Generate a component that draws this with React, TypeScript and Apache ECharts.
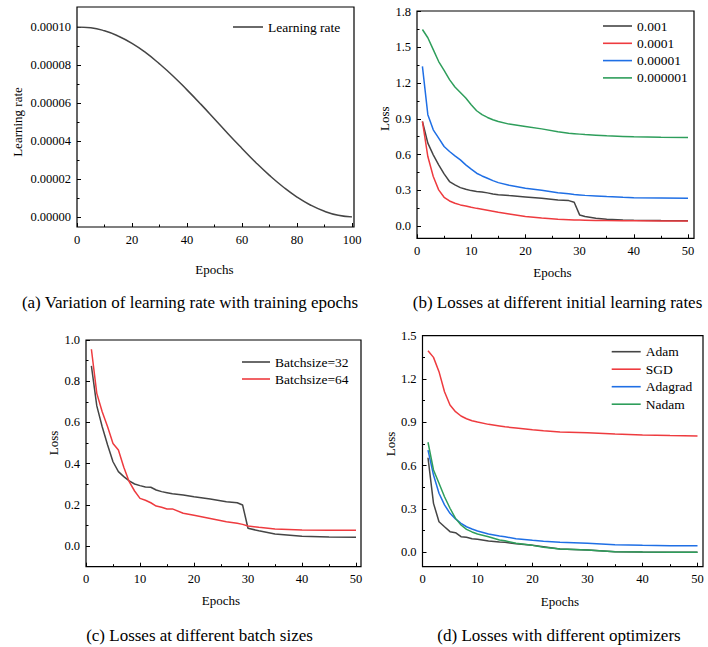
import React, { useEffect, useRef } from 'react';
import * as echarts from 'echarts';

const FONT = "'Liberation Serif', 'Times New Roman', serif";

// ---------- Data ----------
// (a) learning rate vs epochs
const EPOCHS_A = [0, 5, 10, 15, 20, 25, 30, 35, 40, 45, 50, 55, 60, 65, 70, 75, 80, 85, 90, 95, 100];
const LEARNING_RATE = [1.0e-4, 9.96e-5, 9.8e-5, 9.52e-5, 9.14e-5, 8.65e-5, 8.06e-5, 7.41e-5, 6.69e-5, 5.94e-5, 5.16e-5, 4.37e-5, 3.61e-5, 2.87e-5, 2.19e-5, 1.58e-5, 1.05e-5, 6.2e-6, 3.0e-6, 9e-7, 0];

// (b) losses at different initial learning rates
const EPOCHS_B = [1, 2, 3, 4, 5, 6, 7, 8, 9, 10, 11, 12, 13, 14, 15, 17, 20, 23, 26, 28, 29, 30, 31, 33, 35, 38, 40, 45, 50];
const LOSS_LR_1E3 = [0.877, 0.695, 0.597, 0.513, 0.437, 0.373, 0.345, 0.322, 0.308, 0.297, 0.289, 0.286, 0.278, 0.269, 0.263, 0.255, 0.244, 0.232, 0.219, 0.213, 0.199, 0.093, 0.079, 0.065, 0.056, 0.05, 0.048, 0.046, 0.045];
const LOSS_LR_1E4 = [0.877, 0.583, 0.415, 0.303, 0.241, 0.21, 0.191, 0.177, 0.168, 0.157, 0.148, 0.14, 0.132, 0.124, 0.115, 0.101, 0.079, 0.067, 0.057, 0.053, 0.051, 0.05, 0.049, 0.047, 0.046, 0.045, 0.045, 0.043, 0.042];
const LOSS_LR_1E5 = [1.34, 0.934, 0.807, 0.737, 0.667, 0.625, 0.589, 0.555, 0.513, 0.477, 0.443, 0.42, 0.401, 0.381, 0.364, 0.342, 0.317, 0.3, 0.28, 0.27, 0.265, 0.261, 0.257, 0.252, 0.247, 0.241, 0.238, 0.235, 0.233];
const LOSS_LR_1E6 = [1.649, 1.58, 1.48, 1.38, 1.306, 1.228, 1.167, 1.121, 1.074, 1.018, 0.967, 0.934, 0.911, 0.892, 0.877, 0.855, 0.835, 0.815, 0.79, 0.779, 0.775, 0.771, 0.767, 0.762, 0.757, 0.752, 0.749, 0.745, 0.743];

// (c) losses at different batch sizes
const EPOCHS_C = [1, 2, 3, 4, 5, 6, 7, 8, 9, 10, 11, 12, 13, 14, 15, 16, 18, 20, 23, 26, 28, 29, 30, 32, 35, 40, 45, 50];
const LOSS_BS32 = [0.874, 0.68, 0.579, 0.49, 0.409, 0.361, 0.337, 0.316, 0.301, 0.293, 0.286, 0.285, 0.272, 0.264, 0.259, 0.254, 0.248, 0.239, 0.228, 0.215, 0.21, 0.199, 0.086, 0.074, 0.058, 0.047, 0.044, 0.042];
const LOSS_BS64 = [0.955, 0.741, 0.652, 0.579, 0.498, 0.466, 0.382, 0.312, 0.267, 0.231, 0.222, 0.21, 0.194, 0.188, 0.18, 0.18, 0.159, 0.149, 0.134, 0.118, 0.11, 0.105, 0.097, 0.091, 0.083, 0.078, 0.076, 0.076];

// (d) losses with different optimizers
const EPOCHS_D = [1, 2, 3, 4, 5, 6, 7, 8, 9, 10, 12, 14, 15, 17, 20, 22, 25, 30, 35, 40, 45, 50];
const LOSS_ADAM = [0.655, 0.339, 0.212, 0.177, 0.143, 0.136, 0.108, 0.104, 0.094, 0.09, 0.078, 0.071, 0.069, 0.06, 0.048, 0.039, 0.023, 0.016, 0.004, 0.002, 0.001, 0.001];
const LOSS_SGD = [1.396, 1.35, 1.251, 1.112, 1.02, 0.974, 0.944, 0.925, 0.911, 0.902, 0.886, 0.875, 0.869, 0.861, 0.849, 0.842, 0.833, 0.828, 0.819, 0.812, 0.808, 0.806];
const LOSS_ADAGRAD = [0.708, 0.535, 0.409, 0.328, 0.27, 0.231, 0.201, 0.177, 0.161, 0.148, 0.127, 0.113, 0.107, 0.094, 0.083, 0.076, 0.069, 0.062, 0.053, 0.048, 0.046, 0.046];
const LOSS_NADAM = [0.762, 0.57, 0.478, 0.385, 0.305, 0.235, 0.189, 0.159, 0.141, 0.127, 0.108, 0.085, 0.08, 0.062, 0.048, 0.035, 0.023, 0.016, 0.004, 0.002, 0.001, 0.001];

const CAPTIONS = [
  '(a) Variation of learning rate with training epochs',
  '(b) Losses at different initial learning rates',
  '(c) Losses at different batch sizes',
  '(d) Losses with different optimizers',
];

const BLACK = '#454545';
const RED = '#ee3b3f';
const BLUE = '#1f6fe5';
const GREEN = '#2e9e5b';

const pairs = (xs: number[], ys: number[]) => xs.map((x, i) => [x, ys[i]]);

// ---------- Layout ----------
type Panel = {
  grid: { left: number; top: number; width: number; height: number };
  frame: { x: number; y: number; w: number; h: number };
  xMax: number; xInt: number; xOffset: number; xGap: number;
  yMax: number; yInt: number; yName: string; yGap: number; yDec: number;
  legend: { left: number; top: number; itemWidth: number; itemGap: number; data: string[] };
  caption: { x: number; y: number };
};

const PANELS: Panel[] = [
  {
    grid: { left: 77, top: 27, width: 275, height: 190 },
    frame: { x: 77, y: 7, w: 277, h: 220 },
    xMax: 100, xInt: 20, xOffset: 10, xGap: 36,
    yMax: 0.0001, yInt: 0.00002, yName: 'Learning rate', yGap: 53, yDec: 5,
    legend: { left: 233, top: 20, itemWidth: 30, itemGap: 3, data: ['Learning rate'] },
    caption: { x: 190, y: 302 },
  },
  {
    grid: { left: 417, top: 11.5, width: 271, height: 214.5 },
    frame: { x: 417, y: 11, w: 277, h: 227.3 },
    xMax: 50, xInt: 10, xOffset: 12.3, xGap: 27.5,
    yMax: 1.8, yInt: 0.3, yName: 'Loss', yGap: 23, yDec: 1,
    legend: { left: 603, top: 19, itemWidth: 29, itemGap: 3.3, data: ['0.001', '0.0001', '0.00001', '0.000001'] },
    caption: { x: 557.5, y: 302 },
  },
  {
    grid: { left: 86, top: 340, width: 270, height: 206 },
    frame: { x: 86, y: 340, w: 275, h: 226.7 },
    xMax: 50, xInt: 10, xOffset: 20.7, xGap: 27,
    yMax: 1.0, yInt: 0.2, yName: 'Loss', yGap: 25, yDec: 1,
    legend: { left: 242, top: 355, itemWidth: 28, itemGap: 3, data: ['Batchsize=32', 'Batchsize=64'] },
    caption: { x: 199.5, y: 635 },
  },
  {
    grid: { left: 422.5, top: 335.7, width: 275, height: 216.6 },
    frame: { x: 422.5, y: 335.7, w: 280.5, h: 231 },
    xMax: 50, xInt: 10, xOffset: 14.4, xGap: 28,
    yMax: 1.5, yInt: 0.3, yName: 'Loss', yGap: 25, yDec: 1,
    legend: { left: 611.7, top: 344.7, itemWidth: 29, itemGap: 3.5, data: ['Adam', 'SGD', 'Adagrad', 'Nadam'] },
    caption: { x: 559, y: 635 },
  },
];

const tickStyle = { color: '#000', width: 1 };
const labelStyle = { fontFamily: FONT, fontSize: 12.5, color: '#000' };
const nameStyle = { fontFamily: FONT, fontSize: 13, color: '#000' };

function buildOption() {
  const grid = PANELS.map((p) => ({ ...p.grid, containLabel: false, outerBoundsMode: 'none' }));
  const xAxis = PANELS.map((p, i) => ({
    type: 'value', gridIndex: i, min: 0, max: p.xMax, interval: p.xInt, offset: p.xOffset,
    name: 'Epochs', nameLocation: 'middle', nameGap: p.xGap, nameTextStyle: nameStyle,
    axisLine: { show: false, onZero: false },
    axisTick: { show: true, inside: true, length: 4, lineStyle: tickStyle },
    minorTick: { show: true, splitNumber: 2, length: 2.5, lineStyle: tickStyle },
    splitLine: { show: false }, minorSplitLine: { show: false },
    axisLabel: { ...labelStyle, margin: 6 },
  }));
  const yAxis = PANELS.map((p, i) => ({
    type: 'value', gridIndex: i, min: 0, max: p.yMax, interval: p.yInt,
    name: p.yName, nameLocation: 'middle', nameGap: p.yGap, nameTextStyle: nameStyle,
    axisLine: { show: false, onZero: false },
    axisTick: { show: true, inside: true, length: 4, lineStyle: tickStyle },
    minorTick: { show: true, splitNumber: 2, length: 2.5, lineStyle: tickStyle },
    splitLine: { show: false }, minorSplitLine: { show: false },
    axisLabel: { ...labelStyle, margin: 6, formatter: (v: number) => v.toFixed(p.yDec) },
  }));
  const line = (name: string, idx: number, xs: number[], ys: number[], color: string, smooth = false) => ({
    type: 'line', name, xAxisIndex: idx, yAxisIndex: idx, data: pairs(xs, ys),
    symbol: 'none', smooth, color, lineStyle: { color, width: 1.5 },
  });
  const series = [
    line('Learning rate', 0, EPOCHS_A, LEARNING_RATE, BLACK, true),
    line('0.001', 1, EPOCHS_B, LOSS_LR_1E3, BLACK),
    line('0.0001', 1, EPOCHS_B, LOSS_LR_1E4, RED),
    line('0.00001', 1, EPOCHS_B, LOSS_LR_1E5, BLUE),
    line('0.000001', 1, EPOCHS_B, LOSS_LR_1E6, GREEN),
    line('Batchsize=32', 2, EPOCHS_C, LOSS_BS32, BLACK),
    line('Batchsize=64', 2, EPOCHS_C, LOSS_BS64, RED),
    line('Adam', 3, EPOCHS_D, LOSS_ADAM, BLACK),
    line('SGD', 3, EPOCHS_D, LOSS_SGD, RED),
    line('Adagrad', 3, EPOCHS_D, LOSS_ADAGRAD, BLUE),
    line('Nadam', 3, EPOCHS_D, LOSS_NADAM, GREEN),
  ];
  const legend = PANELS.map((p) => ({
    orient: 'vertical', left: p.legend.left, top: p.legend.top, padding: 0,
    itemWidth: p.legend.itemWidth, itemHeight: 1.6, itemGap: p.legend.itemGap,
    icon: 'rect', selectedMode: false, data: p.legend.data,
    textStyle: { fontFamily: FONT, fontSize: 13.5, color: '#000', lineHeight: 14 },
  }));
  const graphic: any[] = [];
  PANELS.forEach((p, i) => {
    graphic.push({
      type: 'rect', silent: true, z: 10,
      shape: { x: p.frame.x, y: p.frame.y, width: p.frame.w, height: p.frame.h },
      style: { fill: 'none', stroke: '#000', lineWidth: 1.2 },
    });
    graphic.push({
      type: 'text', silent: true, x: p.caption.x, y: p.caption.y,
      style: {
        text: CAPTIONS[i], fill: '#000', fontSize: 17, fontFamily: FONT,
        align: 'center', verticalAlign: 'middle', textAlign: 'center', textVerticalAlign: 'middle',
      },
    });
  });
  return {
    animation: false,
    backgroundColor: '#fff',
    textStyle: { fontFamily: FONT },
    grid, xAxis, yAxis, series, legend, graphic,
  };
}

export default function App() {
  const ref = useRef<HTMLDivElement>(null);
  useEffect(() => {
    const chart = echarts.init(ref.current!, null, { renderer: 'svg' });
    chart.setOption(buildOption() as any);
    return () => chart.dispose();
  }, []);
  return (
    <div
      ref={ref}
      style={{ position: 'absolute', left: 0, top: 0, width: 708, height: 647, background: '#fff' }}
    />
  );
}
